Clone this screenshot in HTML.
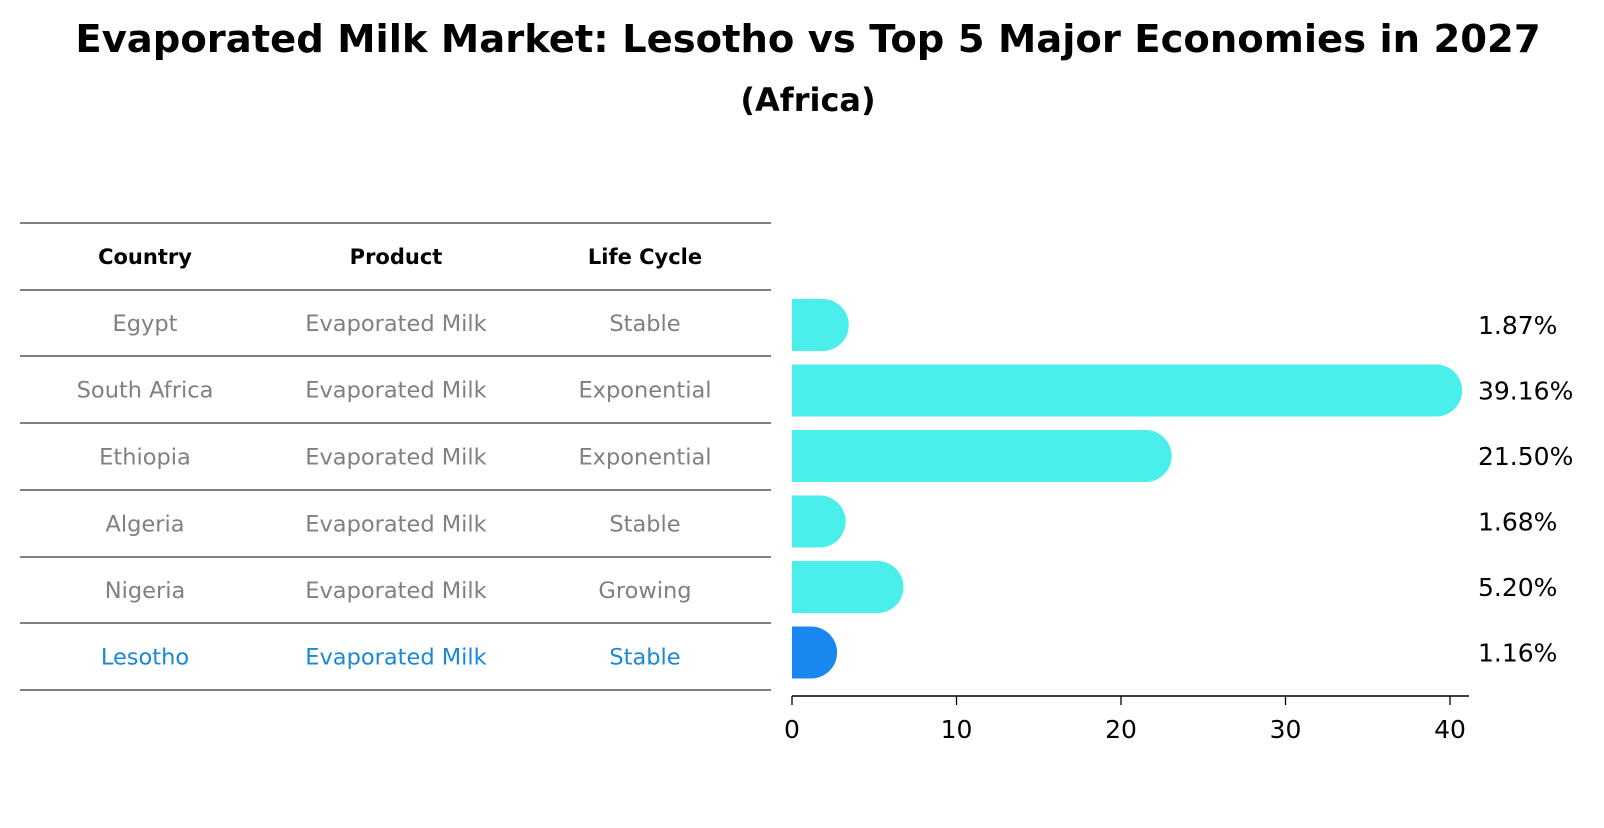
<!DOCTYPE html>
<html><head><meta charset="utf-8"><style>
body{margin:0;background:#fff;}
svg text{font-family:"DejaVu Sans","Liberation Sans",sans-serif;}
</style></head><body>
<svg width="1604" height="823" xmlns="http://www.w3.org/2000/svg">
<text x="808" y="52" text-anchor="middle" font-size="38.5" font-weight="bold">Evaporated Milk Market: Lesotho vs Top 5 Major Economies in 2027</text>
<text x="808" y="111" text-anchor="middle" font-size="32" font-weight="bold">(Africa)</text>
<g id="table"></g>
<g id="bars"></g>
</svg>
<script>
const countries=["Egypt","South Africa","Ethiopia","Algeria","Nigeria","Lesotho"];
const products=["Evaporated Milk","Evaporated Milk","Evaporated Milk","Evaporated Milk","Evaporated Milk","Evaporated Milk"];
const lifeCycles=["Stable","Exponential","Exponential","Stable","Growing","Stable"];
const shares=[1.87,39.16,21.50,1.68,5.20,1.16];
const valueLabels=["1.87%","39.16%","21.50%","1.68%","5.20%","1.16%"];
const xTicks=[0,10,20,30,40];
const NS="http://www.w3.org/2000/svg";
function mk(tag,attrs,parent){const e=document.createElementNS(NS,tag);for(const k in attrs)e.setAttribute(k,attrs[k]);parent.appendChild(e);return e;}
const tbl=document.getElementById('table');
const lineYs=[223,290,356,423,490,557,623,690];
lineYs.forEach((y,i)=>{const l=mk('line',{x1:20,x2:771,y1:y,y2:y,stroke:'#000','stroke-width':1},tbl);

});
const colX=[145,396,645];
const heads=["Country","Product","Life Cycle"];
heads.forEach((h,i)=>{const t=mk('text',{x:colX[i],y:264,'text-anchor':'middle','font-size':21,'font-weight':'bold'},tbl);t.textContent=h;

});
const rowY=i=>(lineYs[i+1]+lineYs[i+2])/2+8;
countries.forEach((c,i)=>{const col=i===countries.length-1?'#1a87d9':'#808080';
[c,products[i],lifeCycles[i]].forEach((v,j)=>{const t=mk('text',{x:colX[j],y:rowY(i),'text-anchor':'middle','font-size':22.5,fill:col},tbl);t.textContent=v;

});});
const bars=document.getElementById('bars');
const x0=792,ppu=16.45;
const xs=v=>x0+v*ppu;
const ys=i=>325+i*65.5;
const bh=52;
const cp=mk('clipPath',{id:'clip'},bars);
mk('rect',{x:x0,y:0,width:900,height:823},cp);
shares.forEach((v,i)=>{const col=i===shares.length-1?'#1a86f0':'#4aeeea';
const r=bh/2;const xe=xs(v);
const p=mk('path',{d:`M${x0-r},${ys(i)-r} H${xe} A${r},${r} 0 0 1 ${xe},${ys(i)+r} H${x0-r} Z`,fill:col,'clip-path':'url(#clip)'},bars);


const t=mk('text',{x:1478,y:ys(i)+9,'font-size':25},bars);t.textContent=valueLabels[i];

});
const ax=mk('line',{x1:x0,x2:1469,y1:696,y2:696,stroke:'#000','stroke-width':1.5},bars);


xTicks.forEach(v=>{const tk=mk('line',{x1:xs(v),x2:xs(v),y1:696,y2:705,stroke:'#000','stroke-width':1.3},bars);


const t=mk('text',{x:xs(v),y:738,'text-anchor':'middle','font-size':25},bars);t.textContent=v;

});
</script>
</body></html>
